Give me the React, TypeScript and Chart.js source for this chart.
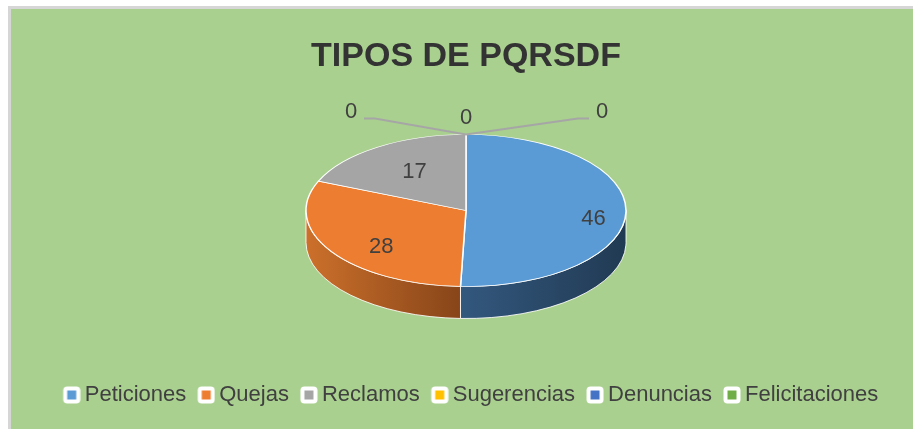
import React, { useEffect, useRef } from 'react';
import { Chart, registerables } from 'chart.js';

Chart.register(...registerables);

// ---- data ----
const TITLE = 'TIPOS DE PQRSDF';
const CATEGORIES = ['Peticiones', 'Quejas', 'Reclamos', 'Sugerencias', 'Denuncias', 'Felicitaciones'];
const VALUES = [46, 28, 17, 0, 0, 0];

// ---- styles ----
const COLORS = ['#5B9BD5', '#ED7D31', '#A5A5A5', '#FFC000', '#4472C4', '#70AD47'];
const SIDE_LIGHT = ['#33587e', '#cc702b', '#7c7c7c', '#bf9000', '#335694', '#548235'];
const SIDE_DARK = ['#213a53', '#874519', '#555555', '#7f6000', '#22395f', '#375623'];
const FONT = '"Liberation Sans", Arial, sans-serif';
const TILT = 0.475; // vertical squash of the pie top face
const DEPTH = 32; // thickness of the pie in px
const LABEL_R = 0.72;
const LABEL_DY = 7;
const ZERO_DX = [-115, 0, 136];

// legend marker: white rounded box with a coloured square, placed at the right end of the image
function makeBox(color: string): HTMLCanvasElement {
  const c = document.createElement('canvas');
  c.width = 34;
  c.height = 18;
  const g = c.getContext('2d')!;
  g.fillStyle = '#ffffff';
  g.beginPath();
  (g as any).roundRect ? (g as any).roundRect(16.5, 0.5, 17, 17, 4) : g.rect(16.5, 0.5, 17, 17);
  g.fill();
  g.fillStyle = color;
  g.fillRect(20.5, 4.5, 9, 9);
  return c;
}

const pie3d = {
  id: 'pie3d',
  beforeDatasetsDraw(chart: any) {
    const meta = chart.getDatasetMeta(0);
    const arcs = meta.data;
    chart.$pie3dSaved = false;
    if (!arcs.length) return;
    const ctx = chart.ctx as CanvasRenderingContext2D;
    const { x: cx, y: cy, outerRadius: r } = arcs[0].getProps(['x', 'y', 'outerRadius'], true);
    const ry = r * TILT;
    arcs.forEach((arc: any, i: number) => {
      const { startAngle, endAngle } = arc.getProps(['startAngle', 'endAngle'], true);
      const s = Math.max(startAngle, 0);
      const e = Math.min(endAngle, Math.PI);
      if (e <= s) return;
      const xr = cx + r * Math.cos(s);
      const xl = cx + r * Math.cos(e);
      const g = ctx.createLinearGradient(xl, 0, xr, 0);
      g.addColorStop(0, SIDE_LIGHT[i]);
      g.addColorStop(1, SIDE_DARK[i]);
      ctx.beginPath();
      ctx.ellipse(cx, cy, r, ry, 0, s, e, false);
      ctx.ellipse(cx, cy + DEPTH, r, ry, 0, e, s, true);
      ctx.closePath();
      ctx.fillStyle = g;
      ctx.fill();
      ctx.strokeStyle = 'rgba(255,255,255,0.85)';
      ctx.lineWidth = 1;
      ctx.stroke();
    });
    ctx.save();
    ctx.translate(cx, cy);
    ctx.scale(1, TILT);
    ctx.translate(-cx, -cy);
    chart.$pie3dSaved = true;
  },
  afterDatasetsDraw(chart: any) {
    const ctx = chart.ctx as CanvasRenderingContext2D;
    if (chart.$pie3dSaved) ctx.restore();
    const arcs = chart.getDatasetMeta(0).data;
    if (!arcs.length) return;
    const { x: cx, y: cy, outerRadius: r } = arcs[0].getProps(['x', 'y', 'outerRadius'], true);
    const ry = r * TILT;
    ctx.save();
    ctx.font = '22px ' + FONT;
    ctx.fillStyle = '#404040';
    ctx.textBaseline = 'middle';
    const zeros: { i: number; angle: number }[] = [];
    arcs.forEach((arc: any, i: number) => {
      const { startAngle, endAngle } = arc.getProps(['startAngle', 'endAngle'], true);
      if (endAngle - startAngle < 1e-6) {
        zeros.push({ i, angle: startAngle });
        return;
      }
      const mid = (startAngle + endAngle) / 2;
      ctx.textAlign = 'left';
      ctx.fillText(
        String(VALUES[i]),
        cx + LABEL_R * r * Math.cos(mid),
        cy + LABEL_R * ry * Math.sin(mid) + LABEL_DY
      );
    });
    ctx.textAlign = 'center';
    zeros.forEach((z, k) => {
      const ax = cx + r * Math.cos(z.angle);
      const ay = cy + ry * Math.sin(z.angle);
      const dx = ZERO_DX[k] ?? 0;
      const lx = ax + dx;
      const ly = ay + (dx === 0 ? -17 : -23);
      if (dx !== 0) {
        const dir = Math.sign(dx);
        ctx.beginPath();
        ctx.moveTo(ax, ay);
        ctx.lineTo(lx - dir * 24, ly + 7);
        ctx.lineTo(lx - dir * 13, ly + 7);
        ctx.strokeStyle = '#a6a6a6';
        ctx.lineWidth = 1.8;
        ctx.stroke();
      }
      ctx.fillText(String(VALUES[z.i]), lx, ly);
    });
    ctx.restore();
  },
};

export default function App() {
  const ref = useRef<HTMLCanvasElement | null>(null);
  useEffect(() => {
    if (!ref.current) return;
    Chart.defaults.font.family = FONT;
    const boxes = COLORS.map(makeBox);
    const chart = new Chart(ref.current, {
      type: 'pie',
      data: {
        labels: CATEGORIES,
        datasets: [
          {
            data: VALUES,
            backgroundColor: COLORS,
            borderColor: '#ffffff',
            borderWidth: 1.5,
            radius: 160,
            clip: false,
          } as any,
        ],
      },
      options: {
        responsive: true,
        maintainAspectRatio: false,
        animation: false,
        events: [],
        layout: { padding: { left: 8, bottom: 13 } },
        plugins: {
          title: {
            display: true,
            text: TITLE,
            color: '#333333',
            font: { family: FONT, size: 34, weight: 'bold', lineHeight: 1.2 },
            padding: { top: 27, bottom: -37.8 },
          },
          legend: {
            position: 'bottom',
            labels: {
              font: { family: FONT, size: 22 },
              color: '#404040',
              padding: 2,
              usePointStyle: true,
              pointStyleWidth: 20,
              generateLabels: () =>
                CATEGORIES.map((c, i) => ({
                  text: c,
                  fillStyle: COLORS[i],
                  strokeStyle: COLORS[i],
                  lineWidth: 0,
                  pointStyle: boxes[i],
                  hidden: false,
                  index: i,
                  fontColor: '#404040',
                })) as any,
            },
          },
          tooltip: { enabled: false },
        },
      },
      plugins: [pie3d as any],
    });
    return () => chart.destroy();
  }, []);
  return (
    <div
      style={{
        position: 'fixed',
        left: 8,
        top: 6,
        width: 920,
        height: 440,
        border: '3px solid #d6d6d6',
        background: '#a9d08e',
      }}
    >
      <div style={{ position: 'absolute', left: 0, top: 0, width: 902, height: 420 }}>
        <canvas ref={ref} />
      </div>
    </div>
  );
}
